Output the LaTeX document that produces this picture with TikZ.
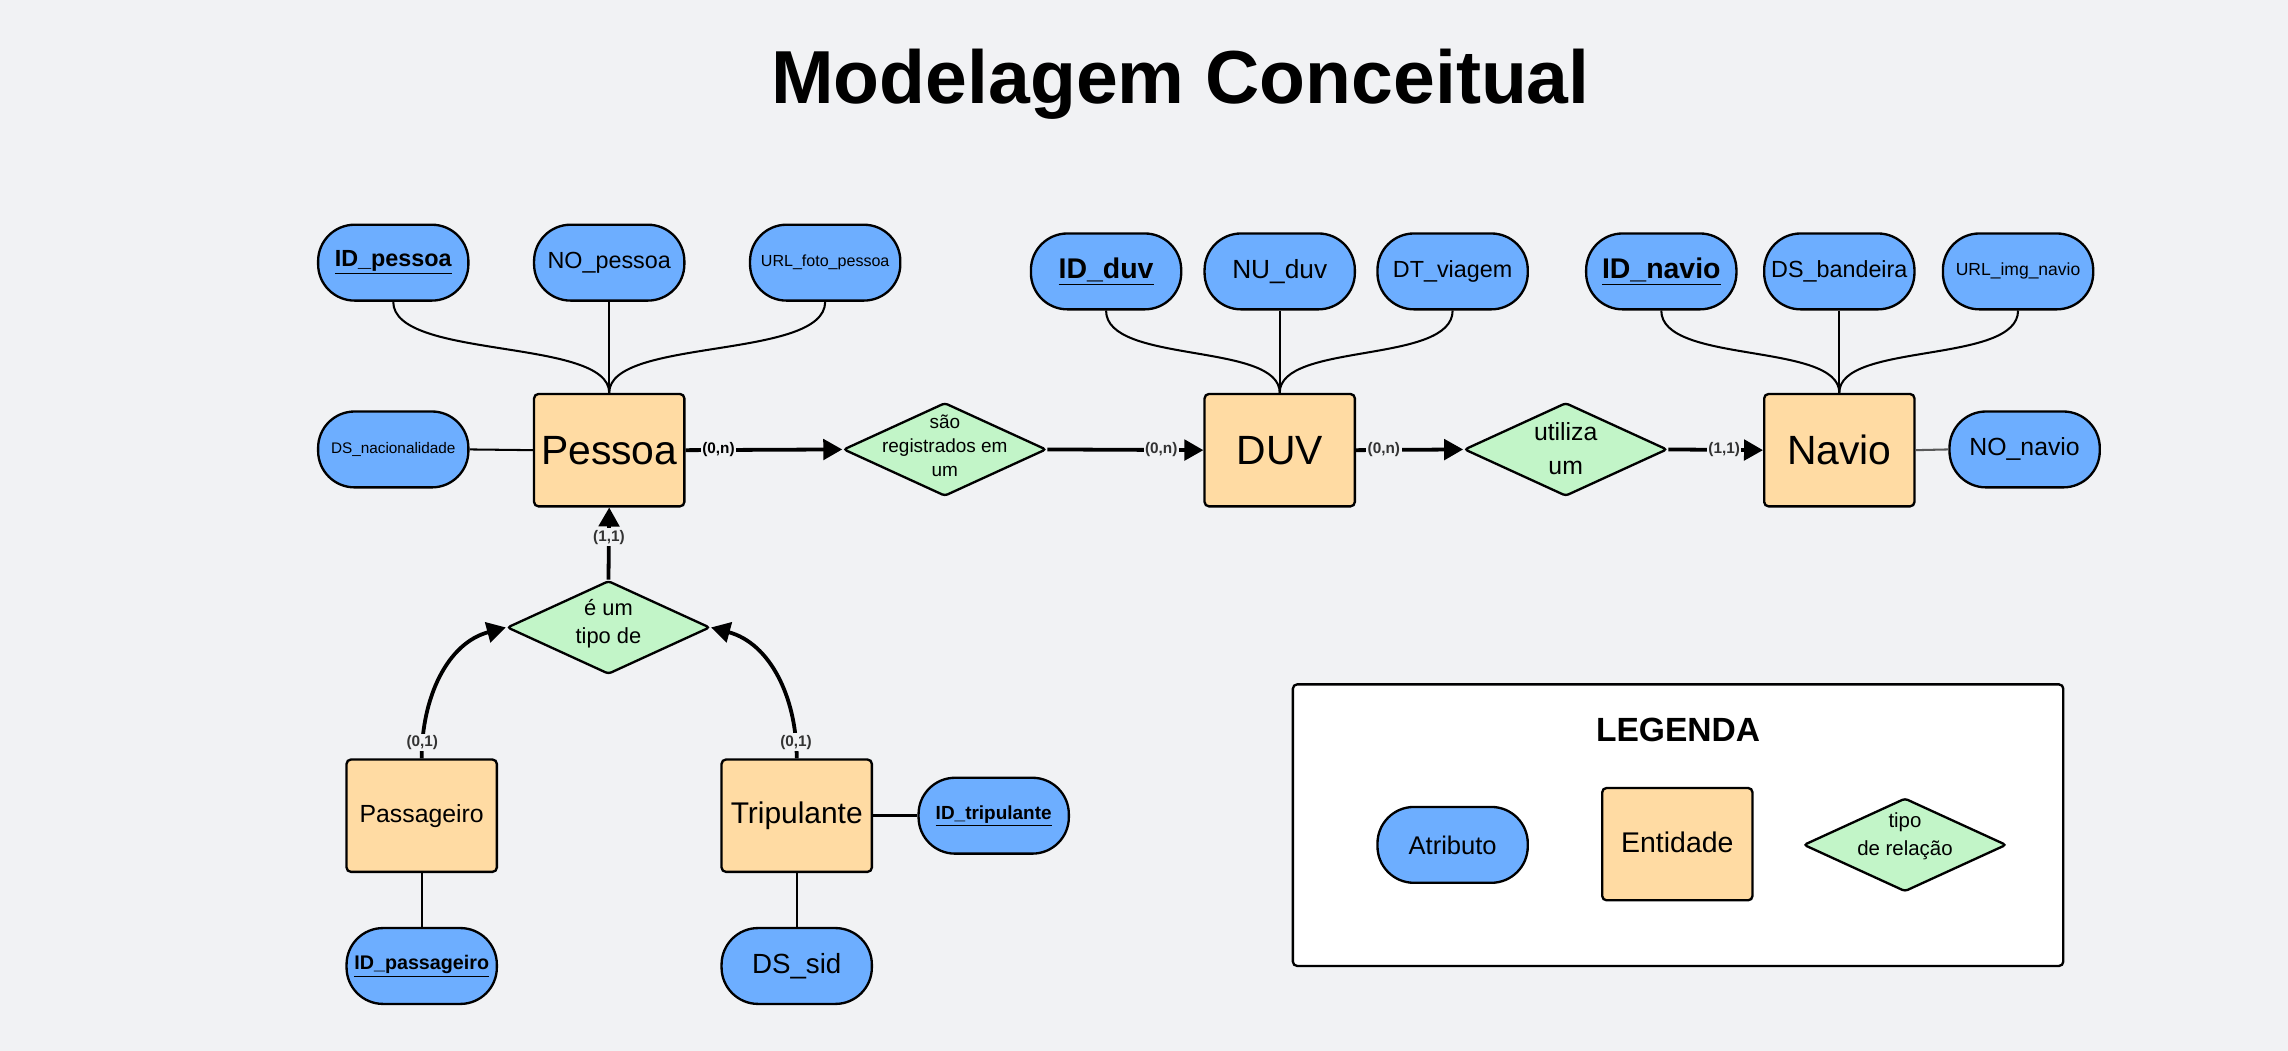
\documentclass[tikz,border=0pt]{standalone}
\usepackage{fontspec}
\setmainfont{Liberation Sans}
\usetikzlibrary{arrows.meta,shapes.geometric}
\definecolor{bgc}{HTML}{F1F2F4}
\definecolor{attrc}{HTML}{6DAEFF}
\definecolor{entc}{HTML}{FFDBA3}
\definecolor{relc}{HTML}{C2F5C8}
\definecolor{cardc}{HTML}{333333}
\newcommand{\fsz}[2]{\fontsize{#1}{#2}\selectfont}
\begin{document}
\begin{tikzpicture}[x=1pt,y=-1pt,
  attrib/.style={draw=black,line width=1.6pt,fill=attrc,rounded corners=25pt,minimum width=103pt,minimum height=52pt,inner sep=0pt},
  entity/.style={draw=black,line width=1.6pt,fill=entc,rounded corners=3pt,minimum width=103pt,minimum height=77pt,inner sep=0pt},
  relshape/.style={draw=black,line width=1.6pt,fill=relc,diamond,rounded corners=2pt,minimum width=139pt,minimum height=64pt,inner sep=0pt},
  reltext/.style={align=center,inner sep=0pt},
  attrline/.style={line width=1.4pt},
  relline/.style={line width=2.6pt,-{Triangle[length=13pt,width=14pt]}},
  card/.style={fill=bgc,inner sep=1pt,font=\bfseries\fsz{10.5}{12},text=cardc}
]
\fill[bgc] (0,0) rectangle (1568,720);
\useasboundingbox (0,0) rectangle (1568,720);

\node[anchor=base,font=\bfseries\fsz{51.5}{60}] (title) at (809,71) {Modelagem Conceitual};

% Pessoa cluster
\node[attrib,font=\bfseries\fsz{16}{19}] (idpessoa) at (269.5,180) {\underline{ID\_pessoa}};
\node[attrib,font=\fsz{16}{19}] (nopessoa) at (417.5,180) {NO\_pessoa};
\node[attrib,font=\fsz{11}{13}] (urlfoto) at (565.5,180) {URL\_foto\_pessoa};
\node[attrib,font=\fsz{10.5}{13}] (dsnac) at (269.5,308) {DS\_nacionalidade};
\node[entity,font=\fsz{28}{32}] (pessoa) at (417.5,308.5) {Pessoa};

\node[relshape] (registra) at (647.5,308) {};
\node[reltext,font=\fsz{13}{16.5}] (registratxt) at (647.5,305.5) {são\\registrados em\\um};

% DUV cluster
\node[entity,font=\fsz{28}{32}] (duv) at (877,308.5) {DUV};
\node[attrib,font=\bfseries\fsz{19.5}{22}] (idduv) at (758,186) {\underline{ID\_duv}};
\node[attrib,font=\fsz{18}{21}] (nuduv) at (877,186) {NU\_duv};
\node[attrib,font=\fsz{16}{19}] (dtviagem) at (995.5,186) {DT\_viagem};

\node[relshape] (utiliza) at (1073,308) {};
\node[reltext,font=\fsz{17}{23}] (utilizatxt) at (1073,307.5) {utiliza\\um};

% Navio cluster
\node[entity,font=\fsz{28}{32}] (navio) at (1260.5,308.5) {Navio};
\node[attrib,font=\bfseries\fsz{19.5}{22}] (idnavio) at (1138.5,186) {\underline{ID\_navio}};
\node[attrib,font=\fsz{16}{19}] (dsband) at (1260.5,186) {DS\_bandeira};
\node[attrib,font=\fsz{12}{14}] (urlimg) at (1383,186) {URL\_img\_navio};
\node[attrib,font=\fsz{17}{20}] (nonavio) at (1387.5,308) {NO\_navio};

% specialisation
\node[relshape] (tipo) at (417,430) {};
\node[reltext,font=\fsz{15}{19}] (tipotxt) at (417,427.5) {é um\\tipo de};
\node[entity,font=\fsz{17}{20}] (passag) at (289,559) {Passageiro};
\node[entity,font=\fsz{20.5}{24}] (tripul) at (546,559) {Tripulante};
\node[attrib,font=\bfseries\fsz{13}{16}] (idtrip) at (681,559) {\underline{ID\_tripulante}};
\node[attrib,font=\bfseries\fsz{13.5}{16}] (idpass) at (289,662) {\underline{ID\_passageiro}};
\node[attrib,font=\fsz{19}{22}] (dssid) at (546,662) {DS\_sid};

% legend
\node[draw=black,fill=white,rounded corners=3pt,line width=1.6pt,minimum width=528pt,minimum height=193pt,inner sep=0pt] (legbox) at (1150,565.5) {};
\node[font=\bfseries\fsz{23}{26}] (legtitle) at (1150,500) {LEGENDA};
\node[attrib,font=\fsz{17.5}{20}] (legattr) at (995.5,579) {Atributo};
\node[entity,font=\fsz{19.5}{23}] (legent) at (1149.5,578.5) {\raisebox{3pt}{Entidade}};
\node[relshape] (legrel) at (1305.5,579) {};
\node[reltext,font=\fsz{14}{19}] (legreltxt) at (1305.5,573) {tipo\\de relação};

% attribute connectors
\draw[attrline] (idpessoa.south) .. controls +(0,40) and +(0,-38) .. (pessoa.north);
\draw[attrline] (nopessoa.south) -- (pessoa.north);
\draw[attrline] (urlfoto.south) .. controls +(0,40) and +(0,-38) .. (pessoa.north);
\draw[attrline] (dsnac.east) -- (pessoa.west);
\draw[attrline] (idduv.south) .. controls +(0,37) and +(0,-35) .. (duv.north);
\draw[attrline] (nuduv.south) -- (duv.north);
\draw[attrline] (dtviagem.south) .. controls +(0,37) and +(0,-35) .. (duv.north);
\draw[attrline] (idnavio.south) .. controls +(0,37) and +(0,-35) .. (navio.north);
\draw[attrline] (dsband.south) -- (navio.north);
\draw[attrline] (urlimg.south) .. controls +(0,37) and +(0,-35) .. (navio.north);
\draw[attrline,draw=black!65] (navio.east) -- (nonavio.west);
\draw[line width=2pt] (tripul.east) -- (idtrip.west);
\draw[attrline] (passag.south) -- (idpass.north);
\draw[attrline] (tripul.south) -- (dssid.north);

% relationship connectors
\draw[relline] (pessoa.east) -- node[card,pos=0.21,text=black] {(0,n)} (registra.west);
\draw[relline] (registra.east) -- node[card,pos=0.73] {(0,n)} (duv.west);
\draw[relline] (duv.east) -- node[card,pos=0.26] {(0,n)} (utiliza.west);
\draw[relline] (utiliza.east) -- node[card,pos=0.59] {(1,1)} (navio.west);
\draw[relline] (tipo.north) -- node[card,pos=0.59] {(1,1)} (pessoa.south);
\draw[relline] (passag.north) to[out=90,in=195] node[card,pos=0.09] {(0,1)} (tipo.west);
\draw[relline] (tripul.north) to[out=90,in=-15] node[card,pos=0.09] {(0,1)} (tipo.east);
\end{tikzpicture}
\end{document}
